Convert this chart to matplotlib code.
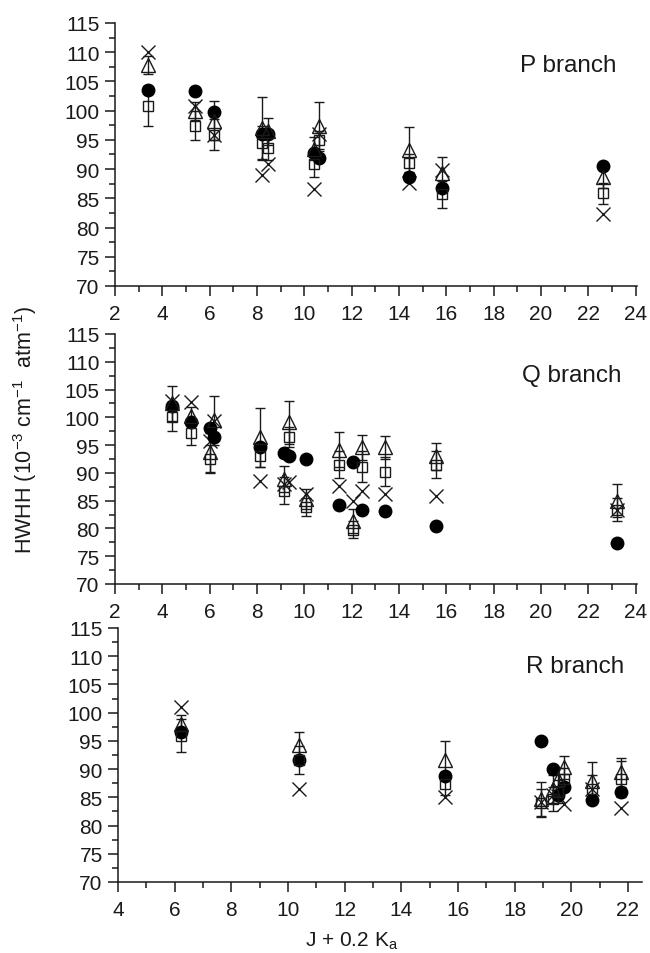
import matplotlib
matplotlib.use("Agg")
import matplotlib.pyplot as plt
from matplotlib.ticker import MultipleLocator

plt.rcParams['font.family'] = ['Liberation Sans', 'DejaVu Sans']
plt.rcParams['mathtext.fontset'] = 'custom'
plt.rcParams['mathtext.rm'] = 'Liberation Sans'
plt.rcParams['mathtext.it'] = 'Liberation Sans'

INK = '#1a1a1a'

# P branch
p_circ_x = [3.4, 5.4, 6.2, 8.2, 8.45, 10.4, 10.6, 14.4, 15.8, 22.6]
p_circ_y = [103.5, 103.3, 99.8, 96.0, 96.0, 92.7, 91.9, 88.7, 86.7, 90.5]
p_tri_x = [3.4, 5.4, 6.2, 8.2, 8.45, 10.4, 10.6, 14.4, 15.8, 22.6]
p_tri_y = [107.8, 99.9, 98.3, 97.0, 96.5, 93.5, 97.3, 93.3, 89.3, 88.7]
p_tri_e = [1.5, 1.5, 3.3, 5.4, 2.3, 2.0, 4.2, 3.9, 2.8, 2.0]
p_sq_x = [3.4, 5.4, 6.2, 8.2, 8.45, 10.4, 10.6, 14.4, 15.8, 22.6]
p_sq_y = [100.8, 97.4, 95.9, 94.5, 93.6, 90.9, 95.0, 91.0, 85.7, 85.9]
p_sq_e = [3.5, 2.5, 2.7, 2.8, 2.0, 2.2, 1.5, 1.5, 2.3, 1.8]
p_x_x = [3.4, 5.4, 6.2, 8.2, 8.45, 10.4, 10.6, 14.4, 15.8, 22.6]
p_x_y = [110.0, 100.8, 95.9, 89.0, 90.9, 86.6, 96.0, 87.6, 89.8, 82.4]

# Q branch
q_circ_x = [4.42, 5.2, 6.0, 6.17, 8.11, 9.12, 9.33, 10.08, 11.48, 12.04, 12.42, 13.42, 15.55, 23.2]
q_circ_y = [102.1, 99.1, 98.1, 96.5, 94.7, 93.5, 93.1, 92.5, 84.3, 92.0, 83.4, 83.1, 80.5, 77.4]
q_tri_x = [4.42, 5.2, 6.0, 6.2, 8.11, 9.12, 9.33, 10.08, 11.48, 12.04, 12.42, 13.42, 15.55, 23.2]
q_tri_y = [102.5, 100.3, 93.7, 99.5, 96.4, 88.9, 99.1, 85.3, 94.2, 81.3, 94.6, 94.6, 93.0, 85.0]
q_tri_e = [3.1, 1.5, 3.5, 4.4, 5.3, 2.3, 3.9, 1.8, 3.1, 2.2, 2.2, 2.1, 2.4, 3.0]
q_sq_x = [4.42, 5.2, 6.0, 8.11, 9.12, 9.33, 10.08, 11.48, 12.04, 12.42, 13.42, 15.55, 23.2]
q_sq_y = [100.1, 97.1, 92.5, 93.1, 86.8, 96.4, 83.9, 91.5, 79.8, 91.1, 90.2, 91.5, 83.4]
q_sq_e = [2.6, 2.1, 2.5, 2.0, 2.4, 1.8, 1.6, 2.5, 1.5, 2.8, 2.6, 2.5, 2.0]
q_x_x = [4.42, 5.2, 6.0, 6.17, 8.11, 9.12, 9.33, 10.08, 11.48, 12.04, 12.42, 13.42, 15.55, 23.2]
q_x_y = [103.0, 102.7, 95.8, 99.4, 88.6, 88.0, 88.3, 86.2, 87.7, 85.0, 86.8, 86.2, 85.9, 83.4]

# R branch
r_circ_x = [6.21, 10.39, 15.56, 18.95, 19.35, 19.55, 19.75, 20.75, 21.75]
r_circ_y = [96.6, 91.6, 88.8, 94.9, 90.1, 85.4, 86.8, 84.5, 85.9]
r_tri_x = [6.21, 10.39, 15.56, 18.95, 19.35, 19.55, 19.75, 20.75, 21.75]
r_tri_y = [98.0, 94.2, 91.6, 84.7, 86.5, 88.2, 90.3, 87.9, 89.4]
r_tri_e = [1.5, 2.3, 3.3, 3.0, 2.5, 2.0, 2.1, 3.4, 2.6]
r_sq_x = [6.21, 10.39, 15.56, 18.95, 19.35, 19.55, 19.75, 20.75, 21.75]
r_sq_y = [95.9, 91.6, 87.4, 84.0, 84.7, 86.0, 88.2, 86.5, 88.2]
r_sq_e = [2.9, 2.5, 2.0, 2.5, 2.2, 2.0, 2.0, 2.5, 3.2]
r_x_x = [6.21, 10.39, 15.56, 18.95, 19.35, 19.55, 19.75, 20.75, 21.75]
r_x_y = [100.95, 86.5, 85.0, 84.2, 85.5, 85.2, 83.8, 86.5, 83.1]

panels = [
    dict(name='P branch', rect=[115/650, 1-287/954, 522/650, 263/954], xlim=(2, 24.05),
         circ=(p_circ_x, p_circ_y), tri=(p_tri_x, p_tri_y, p_tri_e),
         sq=(p_sq_x, p_sq_y, p_sq_e), xs=(p_x_x, p_x_y), lab=(0.868, 0.816)),
    dict(name='Q branch', rect=[115/650, 1-585/954, 522/650, 250/954], xlim=(2, 24.05),
         circ=(q_circ_x, q_circ_y), tri=(q_tri_x, q_tri_y, q_tri_e),
         sq=(q_sq_x, q_sq_y, q_sq_e), xs=(q_x_x, q_x_y), lab=(0.875, 0.812)),
    dict(name='R branch', rect=[118/650, 1-883/954, 524/650, 254/954], xlim=(4, 22.5),
         circ=(r_circ_x, r_circ_y), tri=(r_tri_x, r_tri_y, r_tri_e),
         sq=(r_sq_x, r_sq_y, r_sq_e), xs=(r_x_x, r_x_y), lab=(0.872, 0.827)),
]

fig = plt.figure(figsize=(6.5, 9.54), dpi=100)

eb = dict(color=INK, ecolor=INK, elinewidth=1.0, capsize=3.6, capthick=1.0,
          linestyle='none', mfc='none', mec=INK, mew=1.0)

for p in panels:
    ax = fig.add_axes(p['rect'])
    sx, sy, se = p['sq']
    ax.errorbar(sx, sy, yerr=se, marker='s', ms=7.5, **eb)
    tx, ty, te = p['tri']
    ax.errorbar(tx, ty, yerr=te, marker='^', ms=10, **eb)
    xx, xy = p['xs']
    ax.plot(xx, xy, linestyle='none', marker='x', ms=10, mec=INK, mew=1.0)
    cx, cy = p['circ']
    ax.plot(cx, cy, linestyle='none', marker='o', ms=9, mfc='black', mec='black')

    ax.set_xlim(*p['xlim'])
    ax.set_ylim(70, 115)
    ax.xaxis.set_major_locator(MultipleLocator(2))
    ax.xaxis.set_minor_locator(MultipleLocator(1))
    ax.yaxis.set_major_locator(MultipleLocator(5))
    ax.yaxis.set_minor_locator(MultipleLocator(2.5))
    for s in ['top', 'right']:
        ax.spines[s].set_visible(False)
    for s in ['left', 'bottom']:
        ax.spines[s].set_linewidth(1.1)
        ax.spines[s].set_color(INK)
    ax.tick_params(which='major', direction='out', length=7, width=1.1, colors=INK, labelsize=15)
    ax.tick_params(which='minor', direction='out', length=4, width=1.1, colors=INK)
    ax.tick_params(axis='x', which='major', pad=6)
    ax.tick_params(axis='y', which='major', pad=4)
    ax.text(p['lab'][0], p['lab'][1], p['name'], transform=ax.transAxes,
            ha='center', va='baseline', fontsize=17.5, color=INK)

fig.text(25/650, 1-430/954, r'HWHH (10$^{-3}$ cm$^{-1}$  atm$^{-1}$)', rotation=90,
         ha='center', va='center', fontsize=15.5, color=INK)
fig.text(352/650, 1-947/954, r'J + 0.2 K$_\mathregular{a}$', ha='center', va='baseline',
         fontsize=15, color=INK)

fig.savefig('out.png', dpi=100)
